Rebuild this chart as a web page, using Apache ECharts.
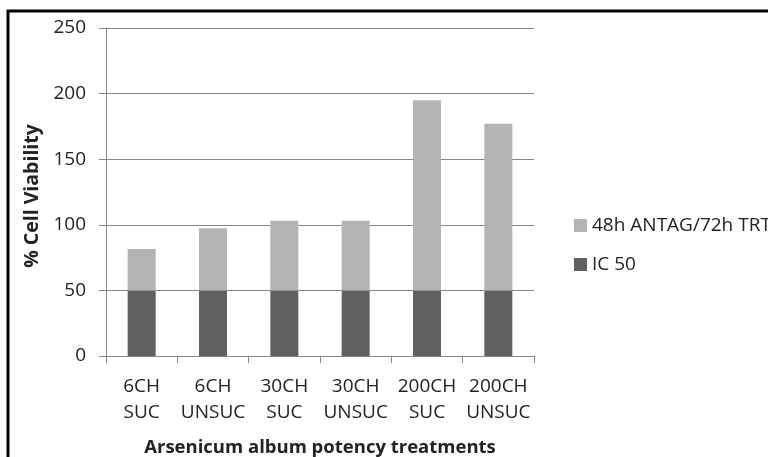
<!DOCTYPE html>
<html>
<head>
<meta charset="utf-8">
<script src="https://cdn.jsdelivr.net/npm/echarts@6/dist/echarts.min.js"></script>
<style>
  html, body { margin: 0; padding: 0; background: #fff; }
  #chart-container { width: 768px; height: 457px; }
</style>
</head>
<body>
<div id="chart-container"></div>
<script>
const categories = ['6CH\nSUC', '6CH\nUNSUC', '30CH\nSUC', '30CH\nUNSUC', '200CH\nSUC', '200CH\nUNSUC'];
const ic50 = [50, 50, 50, 50, 50, 50];
const antag = [31.5, 47.3, 53, 53, 145, 127];
const yTicks = [0, 50, 100, 150, 200, 250];

const fontFamily = '"Open Sans", Lato, sans-serif';
const textColor = '#222';
const lineColor = '#868686';

const myChart = echarts.init(document.getElementById('chart-container'), null, { renderer: 'canvas' });

const option = {
  animation: false,
  textStyle: { fontFamily: fontFamily },
  graphic: [
    {
      type: 'rect',
      shape: { x: 8, y: 11, width: 800, height: 500 },
      style: { fill: 'none', stroke: '#000', lineWidth: 3 },
      silent: true
    }
  ],
  legend: {
    orient: 'vertical',
    left: 569,
    top: 211,
    icon: 'rect',
    itemWidth: 13,
    itemHeight: 13,
    itemGap: 20,
    data: ['48h ANTAG/72h TRT', 'IC 50'],
    textStyle: { fontSize: 19, color: textColor, fontFamily: fontFamily }
  },
  grid: {
    left: 106,
    right: 234,
    top: 28,
    bottom: 101,
    containLabel: false,
    outerBoundsMode: 'none'
  },
  xAxis: {
    type: 'category',
    data: categories,
    name: 'Arsenicum album potency treatments',
    nameLocation: 'middle',
    nameGap: 82,
    nameTextStyle: { fontSize: 18.5, fontWeight: 'bold', color: textColor, fontFamily: fontFamily, verticalAlign: 'top' },
    axisLine: { lineStyle: { color: lineColor, width: 1 } },
    axisTick: { show: true, length: 7, alignWithLabel: false, lineStyle: { color: lineColor } },
    axisLabel: { fontSize: 19, color: textColor, lineHeight: 26, margin: 18, interval: 0 }
  },
  yAxis: {
    type: 'value',
    min: yTicks[0],
    max: yTicks[yTicks.length - 1],
    interval: 50,
    name: '% Cell Viability',
    nameLocation: 'middle',
    nameGap: 64,
    nameTextStyle: { fontSize: 19.5, fontWeight: 'bold', color: textColor, fontFamily: fontFamily, padding: [0, 8, 0, 0] },
    axisLine: { show: true, lineStyle: { color: lineColor, width: 1 } },
    axisTick: { show: true, length: 7, lineStyle: { color: lineColor } },
    axisLabel: { fontSize: 19, color: textColor, margin: 20 },
    splitLine: { lineStyle: { color: lineColor, width: 1 } }
  },
  series: [
    {
      name: 'IC 50',
      type: 'bar',
      stack: 'total',
      barWidth: 28,
      itemStyle: { color: '#606060' },
      data: ic50
    },
    {
      name: '48h ANTAG/72h TRT',
      type: 'bar',
      stack: 'total',
      barWidth: 28,
      itemStyle: { color: '#b3b3b3' },
      data: antag
    }
  ]
};

myChart.setOption(option);
window.addEventListener('resize', () => myChart.resize());
</script>
</body>
</html>
